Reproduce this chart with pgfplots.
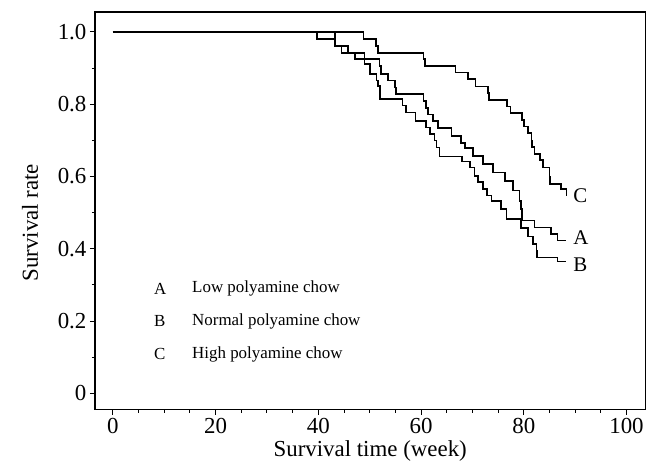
\documentclass[border=0pt]{standalone}
\usepackage{fontspec}
\setmainfont{Liberation Serif}
\usepackage{pgfplots}
\pgfplotsset{compat=1.18}
\begin{document}
\begin{tikzpicture}
\begin{axis}[
    name=ax,
    scale only axis,
    width=551bp, height=398bp,
    xmin=-3.5, xmax=103.7, ymin=-0.045, ymax=1.055,
    xtick={0,20,...,100},
    ytick={0,0.2,0.4,0.6,0.8,1.0},
    yticklabels={0,0.2,0.4,0.6,0.8,1.0},
    minor x tick num=3, minor y tick num=1,
    tick align=outside, xtick pos=left, ytick pos=left,
    major tick length=5bp, minor tick length=3bp,
    every tick/.style={black, line width=1bp},
    axis line style={line width=1.2bp},
    /pgf/number format/assume math mode=true,
    ticklabel style={font=\fontsize{23}{25}\selectfont},
    label style={font=\fontsize{23}{25}\selectfont},
    xlabel={Survival time (week)},
    ylabel={Survival rate},
    xlabel style={at={(axis description cs:0.5,-0.105)}, anchor=center},
    ylabel style={at={(axis description cs:-0.118,0.47)}, anchor=center},
    clip=false,
]
% A: low polyamine
\addplot[black, line width=1.6bp, const plot] coordinates {
  (0,1.0) (43.2,0.961) (45.8,0.941) (49.0,0.925) (51.9,0.906) (52.2,0.883)
  (53.6,0.865) (54.9,0.846) (55.1,0.828) (60.5,0.809) (61.0,0.790) (61.4,0.772)
  (62.3,0.753) (63.3,0.734) (65.9,0.712) (67.8,0.692) (68.6,0.678) (70.1,0.657)
  (72.0,0.634) (74.0,0.611) (76.3,0.588) (77.9,0.561) (79.2,0.533) (79.5,0.510)
  (79.7,0.478) (82.1,0.459) (85.3,0.441) (86.6,0.423) (88.3,0.423)
};
% B: normal polyamine
\addplot[black, line width=1.6bp, const plot] coordinates {
  (0,1.0) (39.7,0.980) (43.2,0.961) (44.5,0.941) (47.1,0.925) (49.0,0.911)
  (50.0,0.883) (51.3,0.865) (51.6,0.851) (52.0,0.814) (56.4,0.796) (57.1,0.777)
  (58.9,0.754) (61.0,0.736) (61.7,0.717) (62.6,0.700) (63.0,0.680) (63.6,0.655)
  (68.0,0.642) (69.5,0.625) (70.4,0.602) (71.1,0.584) (72.0,0.565) (72.8,0.547)
  (73.7,0.533) (75.6,0.510) (76.6,0.483) (79.5,0.458) (80.8,0.434) (81.8,0.414)
  (82.5,0.395) (82.6,0.376) (86.6,0.365) (88.3,0.365)
};
% C: high polyamine
\addplot[black, line width=1.6bp, const plot] coordinates {
  (0,1.0) (48.8,0.980) (51.2,0.961) (51.6,0.941) (60.5,0.925) (60.8,0.906)
  (66.7,0.888) (69.1,0.869) (70.6,0.849) (73.0,0.831) (73.2,0.812) (76.7,0.794)
  (77.4,0.775) (79.6,0.757) (80.0,0.738) (80.8,0.720) (81.5,0.700) (81.6,0.682)
  (82.1,0.663) (83.1,0.645) (83.7,0.625) (85.0,0.600) (85.1,0.580) (87.3,0.565)
  (88.3,0.545)
};
\node[anchor=west, font=\fontsize{21}{23}\selectfont, inner sep=0pt] at (axis cs:89.6,0.547) {C};
\node[anchor=west, font=\fontsize{21}{23}\selectfont, inner sep=0pt] at (axis cs:89.6,0.43) {A};
\node[anchor=west, font=\fontsize{21}{23}\selectfont, inner sep=0pt] at (axis cs:89.6,0.355) {B};
\begin{scope}[every node/.style={anchor=west, inner sep=0pt, font=\fontsize{17}{19}\selectfont}]
\node at (axis cs:8.0,0.29) {A};
\node at (axis cs:15.4,0.29) {Low polyamine chow};
\node at (axis cs:8.0,0.199) {B};
\node at (axis cs:15.4,0.199) {Normal polyamine chow};
\node at (axis cs:8.0,0.108) {C};
\node at (axis cs:15.4,0.108) {High polyamine chow};
\end{scope}
\end{axis}
\path ([xshift=-95bp,yshift=-62bp]ax.south west) rectangle ([xshift=1bp,yshift=12bp]ax.north east);
\end{tikzpicture}
\end{document}
